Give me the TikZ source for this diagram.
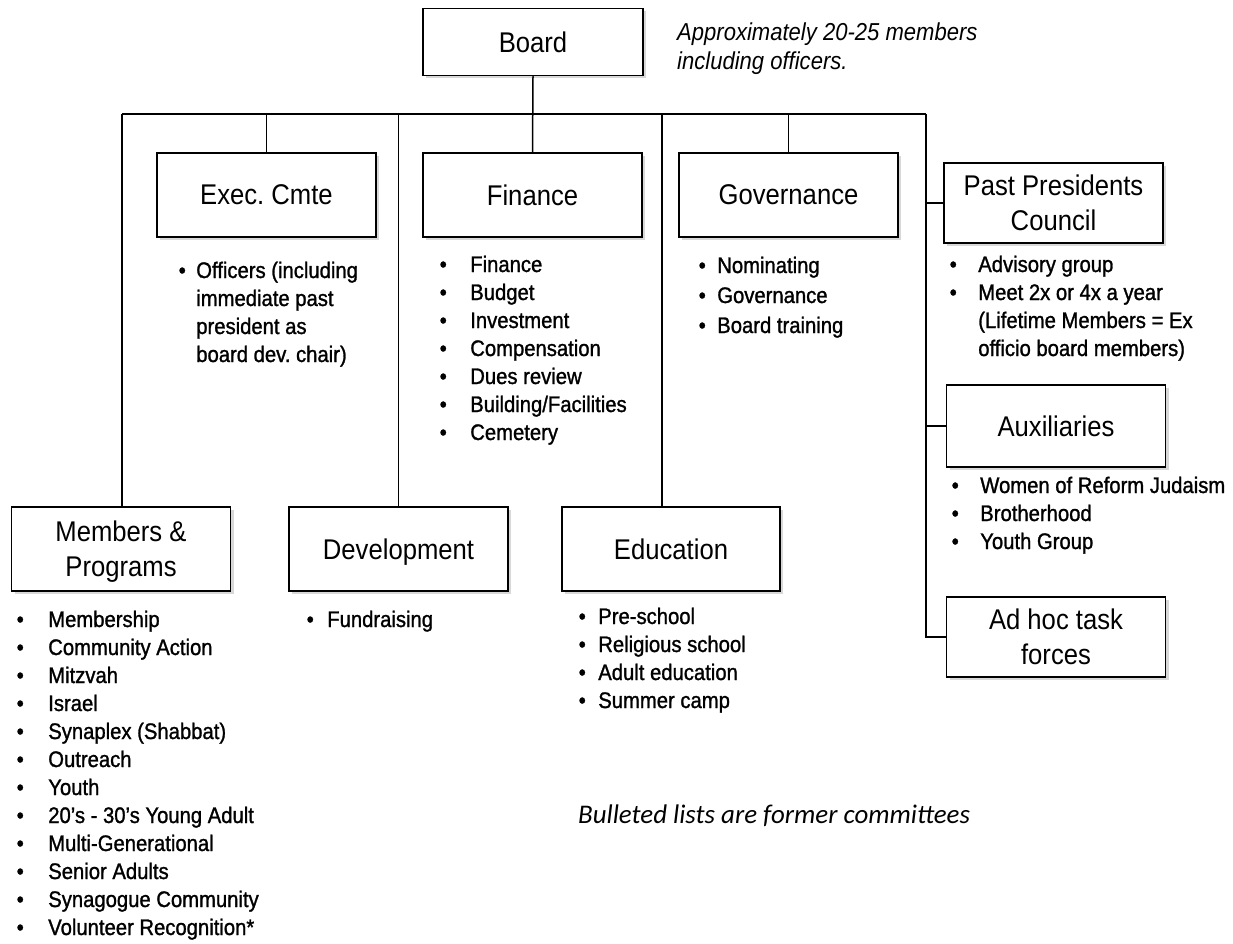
\documentclass[tikz,border=0pt]{standalone}
\usepackage{fontspec}
\setmainfont{Liberation Sans}[FakeStretch=0.9]
\newfontfamily\listfont{Liberation Sans}[FakeStretch=0.9,FakeBold=1.2,Ligatures=TeX]
\newfontfamily\notefont{Carlito}
\usetikzlibrary{shadows}
\frenchspacing
\newcommand{\blist}[2]{\begin{tabular}[t]{@{}l@{\hspace{#1}}l@{}}#2\end{tabular}}
\tikzset{orgbox/.style={draw=black,line width=1.5pt,fill=white,minimum width=219pt,minimum height=84pt,inner sep=2pt,align=center,text depth=0pt,font=\fontsize{28.5}{35}\selectfont,drop shadow={opacity=0.3,shadow xshift=3pt,shadow yshift=-3pt}},busline/.style={draw=black,line width=1.5pt},listtext/.style={anchor=base west,inner sep=0pt,font=\listfont\fontsize{22.5}{28}\selectfont}}
\begin{document}
\begin{tikzpicture}[x=1pt,y=-1pt]
\useasboundingbox[fill=white] (0,0) rectangle (1233,944);
% boxes
\node[orgbox,minimum width=220pt,minimum height=67pt] (board) at (533,42) {Board};
\node[orgbox] (exec) at (266.5,195) {Exec. Cmte};
\node[orgbox] (finance) at (532.5,195) {Finance};
\node[orgbox] (governance) at (788.5,195) {Governance};
\node[orgbox,minimum height=80pt] (pastpres) at (1053.5,203) {Past Presidents\\Council};
\node[orgbox,minimum height=82pt] (aux) at (1056,426) {Auxiliaries};
\node[orgbox,minimum height=80pt] (adhoc) at (1056,637) {Ad hoc task\\forces};
\node[orgbox] (members) at (121,549) {Members \&\\Programs};
\node[orgbox] (development) at (398.5,549) {Development};
\node[orgbox,minimum width=218pt] (education) at (671,549) {Education};
% connectors
\coordinate (busL) at (122,114);\coordinate (busR) at (926,114);\coordinate (eduJoin) at (662,114);
\draw[busline] (busL) -- (busR);
\draw[busline] (board.south) -- (finance.north);
\draw[busline] (busL) -- (busL |- members.north);
\draw[busline] (exec.north |- busL) -- (exec.north);
\draw[busline] (development.north |- busL) -- (development.north);
\draw[busline] (eduJoin) -- (eduJoin |- education.north);
\draw[busline] (governance.north |- busL) -- (governance.north);
\draw[busline] (busR) -- (busR |- adhoc.west) -- (adhoc.west);
\draw[busline] (busR |- pastpres.west) -- (pastpres.west);
\draw[busline] (busR |- aux.west) -- (aux.west);
% lists
\node[listtext] (execlist) at (178.5,278) {\blist{10.5pt}{\textbullet & Officers (including\\ & immediate past\\ & president as\\ & board dev. chair)}};
\node[listtext] (finlist) at (439.5,272) {\blist{23.5pt}{\textbullet & Finance\\ \textbullet & Budget\\ \textbullet & Investment\\ \textbullet & Compensation\\ \textbullet & Dues review\\ \textbullet & Building/Facilities\\ \textbullet & Cemetery}};
\node[listtext,font=\listfont\fontsize{22.5}{30}\selectfont] (govlist) at (698.5,273) {\blist{11.5pt}{\textbullet & Nominating\\ \textbullet & Governance\\ \textbullet & Board training}};
\node[listtext] (pplist) at (949.5,272) {\blist{21.5pt}{\textbullet & Advisory group\\ \textbullet & Meet 2x or 4x a year\\ & (Lifetime Members = Ex\\ & officio board members)}};
\node[listtext] (auxlist) at (951.5,493) {\blist{21.5pt}{\textbullet & Women of Reform Judaism\\ \textbullet & Brotherhood\\ \textbullet & Youth Group}};
\node[listtext] (memlist) at (16.5,627) {\blist{24.5pt}{\textbullet & Membership\\ \textbullet & Community Action\\ \textbullet & Mitzvah\\ \textbullet & Israel\\ \textbullet & Synaplex (Shabbat)\\ \textbullet & Outreach\\ \textbullet & Youth\\ \textbullet & 20’s - 30’s Young Adult\\ \textbullet & Multi-Generational\\ \textbullet & Senior Adults\\ \textbullet & Synagogue Community\\ \textbullet & Volunteer Recognition*}};
\node[listtext] (devlist) at (306.5,627) {\blist{13.5pt}{\textbullet & Fundraising}};
\node[listtext] (edulist) at (578.5,624) {\blist{12.5pt}{\textbullet & Pre-school\\ \textbullet & Religious school\\ \textbullet & Adult education\\ \textbullet & Summer camp}};
% notes
\node[listtext,font=\rmfamily\fontsize{24.5}{29}\selectfont\itshape] (boardnote) at (677,41) {\begin{tabular}[t]{@{}l@{}}Approximately 20-25 members\\including officers.\end{tabular}};
\node[listtext,font=\notefont\fontsize{26.9}{30}\selectfont\itshape] (legend) at (578,823) {Bulleted lists are former committees};
\end{tikzpicture}
\end{document}
